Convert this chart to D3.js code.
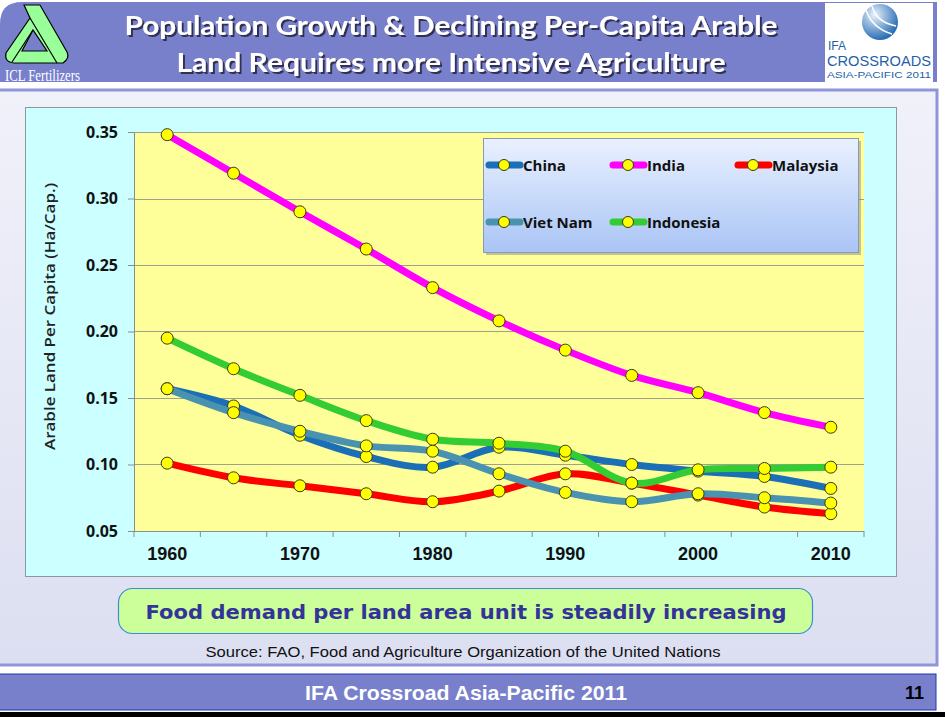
<!DOCTYPE html>
<html>
<head>
<meta charset="utf-8">
<script src="https://cdn.jsdelivr.net/npm/d3@7"></script>
<style>
  html, body { margin: 0; padding: 0; background: #fff; }
  svg { display: block; }
</style>
</head>
<body>
<div id="slide"></div>
<script>
// --- chart data ---
const years = [1960, 1965, 1970, 1975, 1980, 1985, 1990, 1995, 2000, 2005, 2010];
const yTicks = [0.05, 0.10, 0.15, 0.20, 0.25, 0.30, 0.35];
const xLabels = [1960, 1970, 1980, 1990, 2000, 2010];

const china     = [0.157, 0.144, 0.122, 0.106, 0.098, 0.113, 0.107, 0.100, 0.095, 0.091, 0.082];
const india     = [0.348, 0.319, 0.290, 0.262, 0.233, 0.208, 0.186, 0.167, 0.154, 0.139, 0.128];
const malaysia  = [0.101, 0.090, 0.084, 0.078, 0.072, 0.080, 0.093, 0.086, 0.077, 0.068, 0.063];
const vietnam   = [0.157, 0.139, 0.125, 0.114, 0.110, 0.093, 0.079, 0.072, 0.078, 0.075, 0.071];
const indonesia = [0.195, 0.172, 0.152, 0.133, 0.119, 0.116, 0.110, 0.086, 0.096, 0.097, 0.098];

const seriesNames = ["China", "India", "Malaysia", "Viet Nam", "Indonesia"];
const seriesValues = [china, india, malaysia, vietnam, indonesia];
const seriesColors = ["#1b6fb6", "#ff00ff", "#ff0000", "#4a93b0", "#33cc33"];

const W = 945, H = 717;
const svg = d3.select("#slide").append("svg").attr("width", W).attr("height", H);
const defs = svg.append("defs");

// ---------- slide frame ----------
const bodyGrad = defs.append("linearGradient").attr("id", "bodyGrad")
    .attr("x1", "0").attr("x2", "0").attr("y1", "0").attr("y2", "1");
bodyGrad.append("stop").attr("offset", "0%").attr("stop-color", "#f1f1fa");
bodyGrad.append("stop").attr("offset", "100%").attr("stop-color", "#dcdff1");

const shadow = defs.append("filter").attr("id", "txtShadow")
    .attr("x", "-5%").attr("y", "-20%").attr("width", "110%").attr("height", "150%");
shadow.append("feDropShadow").attr("dx", 2).attr("dy", 2).attr("stdDeviation", 0.6)
    .attr("flood-color", "#2a2a48").attr("flood-opacity", 0.9);

// header band with rounded top-left corner
svg.append("path")
    .attr("d", "M0,24 Q0,2 22,2 L937,2 L937,82 L0,82 Z")
    .attr("fill", "#7880cc");

// content panel
svg.append("rect").attr("x", -3).attr("y", 90).attr("width", 940).attr("height", 575)
    .attr("fill", "url(#bodyGrad)").attr("stroke", "#8f95da").attr("stroke-width", 3);

// footer band
svg.append("rect").attr("x", -2).attr("y", 674).attr("width", 938).attr("height", 36)
    .attr("fill", "#7880cc").attr("stroke", "#2536b0").attr("stroke-width", 1);
svg.append("rect").attr("x", 0).attr("y", 712).attr("width", W).attr("height", 5).attr("fill", "#000");

svg.append("text").attr("x", 466).attr("y", 700).attr("text-anchor", "middle")
    .attr("font-family", "Liberation Sans, Arial, sans-serif").attr("font-weight", "bold")
    .attr("font-size", 20).attr("fill", "#fff")
    .attr("textLength", 322).attr("lengthAdjust", "spacingAndGlyphs")
    .text("IFA Crossroad Asia-Pacific 2011");
svg.append("text").attr("x", 924).attr("y", 699).attr("text-anchor", "end")
    .attr("font-family", "Liberation Sans, Arial, sans-serif").attr("font-weight", "bold")
    .attr("font-size", 18).attr("fill", "#000").text("11");

// title
const titleLines = [
    { t: "Population Growth & Declining Per-Capita Arable", y: 35, len: 653 },
    { t: "Land Requires more Intensive Agriculture", y: 72, len: 549 }
];
titleLines.forEach(l => {
    svg.append("text").attr("x", 451).attr("y", l.y)
        .attr("text-anchor", "middle")
        .attr("font-family", "Lato, 'Open Sans', sans-serif").attr("font-weight", "bold")
        .attr("font-size", 27).attr("fill", "#fff")
        .attr("filter", "url(#txtShadow)")
        .attr("textLength", l.len).attr("lengthAdjust", "spacingAndGlyphs")
        .text(l.t);
});

// ICL logo (left)
svg.append("path")
    .attr("d", "M24,5 L40,5 L67,52 Q70,58 63,63 L14,63 Q4,62 6,53 L30,18 Z M33,30 L22,51 L47,51 Z")
    .attr("fill", "#99ff99").attr("fill-rule", "evenodd")
    .attr("stroke", "#000").attr("stroke-width", 1.2);
svg.append("path").attr("d", "M30,18 L57,63 M12,62 L33,30")
    .attr("fill", "none").attr("stroke", "#000").attr("stroke-width", 1.2);
svg.append("text").attr("x", 5).attr("y", 81)
    .attr("font-family", "Liberation Serif, 'Times New Roman', serif")
    .attr("font-size", 16).attr("fill", "#fff")
    .attr("textLength", 75).attr("lengthAdjust", "spacingAndGlyphs")
    .text("ICL Fertilizers");

// IFA logo (right)
svg.append("rect").attr("x", 825).attr("y", 3).attr("width", 108).attr("height", 79).attr("fill", "#fff");
const globeGrad = defs.append("radialGradient").attr("id", "globeGrad")
    .attr("cx", "35%").attr("cy", "30%").attr("r", "70%");
globeGrad.append("stop").attr("offset", "0%").attr("stop-color", "#e8f2fb");
globeGrad.append("stop").attr("offset", "100%").attr("stop-color", "#2a6fb5");
svg.append("circle").attr("cx", 880).attr("cy", 22).attr("r", 18).attr("fill", "url(#globeGrad)");
svg.append("path").attr("d", "M866,10 Q872,28 892,34 M872,6 Q876,22 896,26")
    .attr("fill", "none").attr("stroke", "#fff").attr("stroke-width", 1.5);
const logoFont = "Liberation Sans Narrow, 'Liberation Sans', Arial, sans-serif";
svg.append("text").attr("x", 828).attr("y", 50).attr("font-family", logoFont)
    .attr("font-size", 12).attr("fill", "#1f5fa8").text("IFA");
svg.append("text").attr("x", 827).attr("y", 66).attr("font-family", logoFont)
    .attr("font-size", 15).attr("fill", "#1f5fa8")
    .attr("textLength", 104).attr("lengthAdjust", "spacingAndGlyphs").text("CROSSROADS");
svg.append("text").attr("x", 827).attr("y", 78).attr("font-family", logoFont)
    .attr("font-size", 9).attr("fill", "#1f5fa8")
    .attr("textLength", 104).attr("lengthAdjust", "spacingAndGlyphs").text("ASIA-PACIFIC 2011");

// ---------- chart ----------
svg.append("rect").attr("x", 25.5).attr("y", 107.5).attr("width", 871).attr("height", 469)
    .attr("fill", "#ccffff").attr("stroke", "#8a9a9a").attr("stroke-width", 1);

const plot = { left: 134, right: 864, top: 132, bottom: 531 };
svg.append("rect").attr("x", plot.left).attr("y", plot.top)
    .attr("width", plot.right - plot.left).attr("height", plot.bottom - plot.top)
    .attr("fill", "#ffff99");

const x = d3.scaleBand().domain(years).range([plot.left, plot.right]).padding(0);
const y = d3.scaleLinear().domain([0.05, 0.35]).range([plot.bottom, plot.top]);

// gridlines
svg.append("g").selectAll("line").data(yTicks.slice(1)).join("line")
    .attr("x1", plot.left).attr("x2", plot.right)
    .attr("y1", d => Math.round(y(d)) + 0.5).attr("y2", d => Math.round(y(d)) + 0.5)
    .attr("stroke", "#a0a090").attr("stroke-width", 1);

// y axis
const yAxis = svg.append("g").attr("transform", `translate(${plot.left},0)`)
    .call(d3.axisLeft(y).tickValues(yTicks).tickFormat(d3.format(".2f")).tickSize(6).tickPadding(10));
yAxis.select(".domain").attr("stroke", "#8c8c8c");
yAxis.selectAll(".tick line").attr("stroke", "#8c8c8c");
yAxis.selectAll("text").attr("font-family", "'Open Sans', sans-serif").attr("font-weight", "bold")
    .attr("font-size", 16).attr("fill", "#111");

// x axis: ticks at category boundaries, labels on decades
const xAxis = svg.append("g").attr("transform", `translate(0,${plot.bottom})`);
xAxis.append("line").attr("x1", plot.left).attr("x2", plot.right).attr("y1", 0.5).attr("y2", 0.5)
    .attr("stroke", "#8c8c8c");
xAxis.selectAll("line.tk").data(years.map(d => x(d)).concat([x.range()[1]])).join("line")
    .attr("class", "tk")
    .attr("x1", d => d).attr("x2", d => d).attr("y1", 0).attr("y2", 6)
    .attr("stroke", "#8c8c8c");
xAxis.selectAll("text").data(xLabels).join("text")
    .attr("x", d => x(d) + x.bandwidth() / 2).attr("y", 29)
    .attr("text-anchor", "middle")
    .attr("font-family", "Liberation Sans, Arial, sans-serif").attr("font-weight", "bold")
    .attr("font-size", 18).attr("fill", "#111")
    .text(d => d);

// y title
svg.append("text")
    .attr("transform", `translate(55,${(183 + 450) / 2}) rotate(-90)`)
    .attr("text-anchor", "middle")
    .attr("font-family", "'Open Sans', sans-serif").attr("font-weight", "600")
    .attr("font-size", 15).attr("fill", "#222")
    .attr("textLength", 267).attr("lengthAdjust", "spacingAndGlyphs")
    .text("Arable Land Per Capita (Ha/Cap.)");

// series
const line = d3.line()
    .x((d, i) => x(years[i]) + x.bandwidth() / 2)
    .y(d => y(d))
    .curve(d3.curveCardinal.tension(0));

seriesValues.forEach((vals, si) => {
    const g = svg.append("g");
    g.append("path").datum(vals).attr("d", line)
        .attr("fill", "none").attr("stroke", seriesColors[si])
        .attr("stroke-width", 7).attr("stroke-linejoin", "round");
    g.selectAll("circle").data(vals).join("circle")
        .attr("cx", (d, i) => x(years[i]) + x.bandwidth() / 2)
        .attr("cy", d => y(d))
        .attr("r", 6)
        .attr("fill", "#ffff00").attr("stroke", "#3a3a1a").attr("stroke-width", 1);
});

// legend
const legGrad = defs.append("linearGradient").attr("id", "legGrad")
    .attr("x1", "0").attr("x2", "0").attr("y1", "0").attr("y2", "1");
legGrad.append("stop").attr("offset", "0%").attr("stop-color", "#eaf1ff");
legGrad.append("stop").attr("offset", "100%").attr("stop-color", "#a9c4f5");

const leg = { x: 483, y: 138, w: 375, h: 114 };
svg.append("rect").attr("x", leg.x + 3).attr("y", leg.y + 3).attr("width", leg.w).attr("height", leg.h)
    .attr("fill", "#8a8a8a").attr("opacity", 0.5);
svg.append("rect").attr("x", leg.x + 0.5).attr("y", leg.y + 0.5).attr("width", leg.w).attr("height", leg.h)
    .attr("fill", "url(#legGrad)").attr("stroke", "#8a98b8").attr("stroke-width", 1);

const legPos = [[486, 165], [610, 165], [735, 165], [486, 222], [610, 222]];
seriesNames.forEach((name, si) => {
    const [lx, ly] = legPos[si];
    const g = svg.append("g").attr("transform", `translate(${lx},${ly})`);
    g.append("line").attr("x1", 3).attr("x2", 34).attr("y1", 0).attr("y2", 0)
        .attr("stroke", seriesColors[si]).attr("stroke-width", 7).attr("stroke-linecap", "round");
    g.append("circle").attr("cx", 18).attr("cy", 0).attr("r", 5.5)
        .attr("fill", "#ffff00").attr("stroke", "#3a3a1a").attr("stroke-width", 1);
    g.append("text").attr("x", 37).attr("y", 5.5)
        .attr("font-family", "'Open Sans', sans-serif").attr("font-weight", "bold")
        .attr("font-size", 15).attr("fill", "#111").text(name);
});

// ---------- callout & source ----------
svg.append("rect").attr("x", 118.5).attr("y", 588.5).attr("width", 694).attr("height", 45)
    .attr("rx", 14).attr("fill", "#ccff99").attr("stroke", "#3c8ed4").attr("stroke-width", 1.2);
svg.append("text").attr("x", 466).attr("y", 619).attr("text-anchor", "middle")
    .attr("font-family", "'DejaVu Sans', Verdana, sans-serif").attr("font-weight", "bold")
    .attr("font-size", 20).attr("fill", "#333399")
    .attr("textLength", 641).attr("lengthAdjust", "spacingAndGlyphs")
    .text("Food demand per land area unit is steadily increasing");

svg.append("text").attr("x", 463).attr("y", 657).attr("text-anchor", "middle")
    .attr("font-family", "Liberation Sans, Arial, sans-serif")
    .attr("font-size", 15).attr("fill", "#111")
    .attr("textLength", 515).attr("lengthAdjust", "spacingAndGlyphs")
    .text("Source: FAO, Food and Agriculture Organization of the United Nations");
</script>
</body>
</html>
